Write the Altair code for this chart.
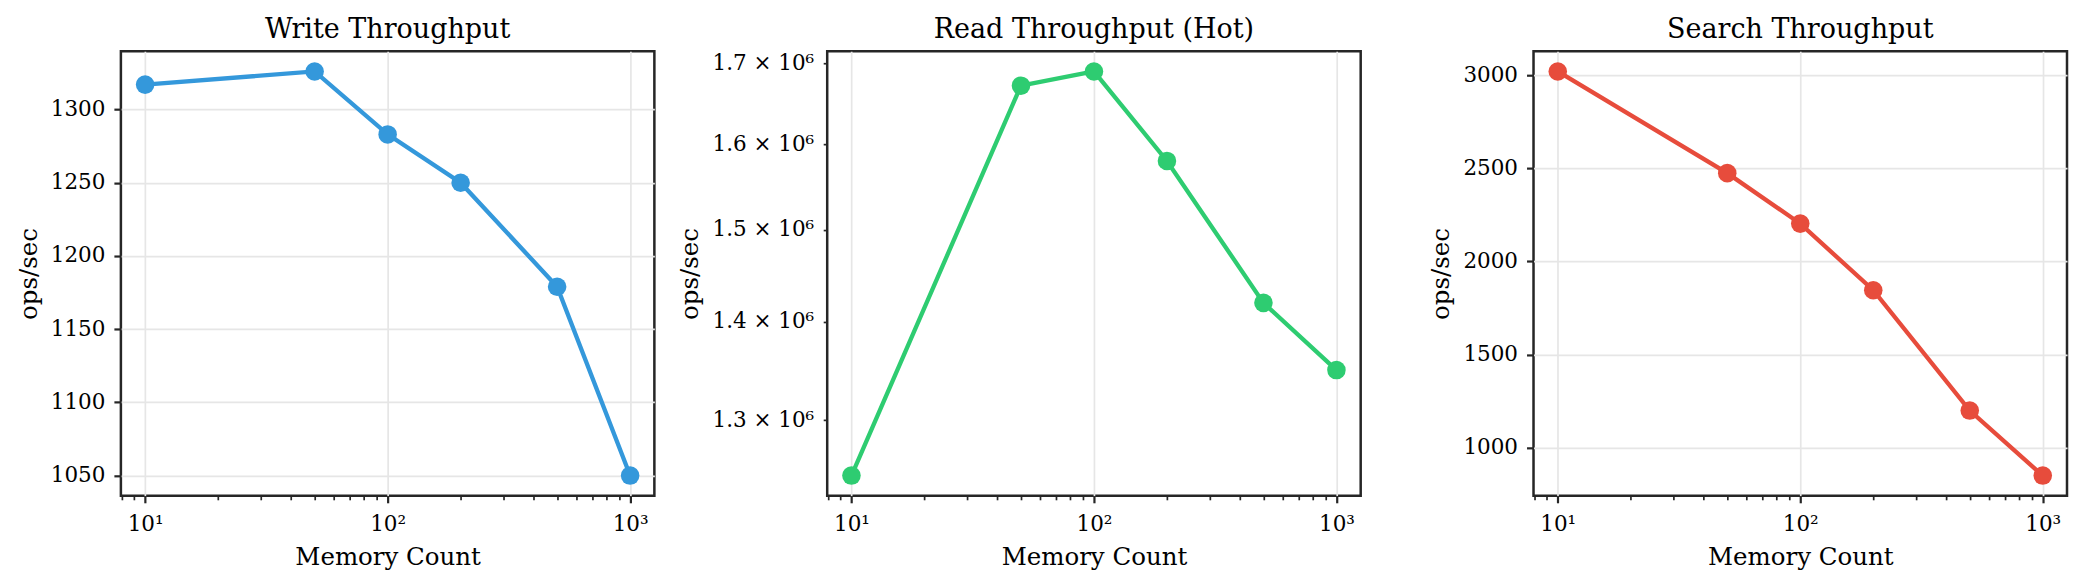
import math
import altair as alt
import pandas as pd

# ---------------- data ----------------
MEMORY_COUNT = [10, 50, 100, 200, 500, 1000]
WRITE_OPS = [1317, 1326, 1283, 1250, 1179, 1050]
READ_OPS = [1.247e6, 1.672e6, 1.690e6, 1.580e6, 1.420e6, 1.350e6]
SEARCH_OPS = [3020, 2474, 2203, 1845, 1199, 850]

TITLES = ["Write Throughput", "Read Throughput (Hot)", "Search Throughput"]
COLORS = ["#3498db", "#2ecc71", "#e74c3c"]
X_TITLE = "Memory Count"
Y_TITLE = "ops/sec"

X_MAJOR = [10, 100, 1000]
X_MAJOR_LABELS = ["10\u00b9", "10\u00b2", "10\u00b3"]
X_MINOR = [8, 9, 20, 30, 40, 50, 60, 70, 80, 90, 200, 300, 400, 500, 600, 700, 800, 900]
WRITE_TICKS = [1050, 1100, 1150, 1200, 1250, 1300]
SEARCH_TICKS = [1000, 1500, 2000, 2500, 3000]
READ_TICKS = [1.3e6, 1.4e6, 1.5e6, 1.6e6, 1.7e6]
READ_TICK_LABELS = ["1.3 \u00d7 10\u2076", "1.4 \u00d7 10\u2076", "1.5 \u00d7 10\u2076",
                    "1.6 \u00d7 10\u2076", "1.7 \u00d7 10\u2076"]

FONT = "DejaVu Serif"
INK = "#262626"
W, H = 534, 445


def label_expr(values, labels):
    expr = "''"
    for v, l in reversed(list(zip(values, labels))):
        expr = f"abs(datum.value - {v}) < 1e-6 * {v} ? '{l}' : ({expr})"
    return expr


def lin_domain(vals):
    lo, hi = min(vals), max(vals)
    m = 0.05 * (hi - lo)
    return [lo - m, hi + m]


def log_domain(vals):
    lo, hi = math.log10(min(vals)), math.log10(max(vals))
    m = 0.05 * (hi - lo)
    return [10 ** (lo - m), 10 ** (hi + m)]


XDOM = log_domain(MEMORY_COUNT)

x_major_axis = alt.Axis(values=X_MAJOR, labelExpr=label_expr(X_MAJOR, X_MAJOR_LABELS),
                        title=X_TITLE, orient="bottom", tickSize=7, tickWidth=2.2,
                        grid=True, labelPadding=11, titlePadding=10,
                        labelFlush=False, labelOverlap=False)
x_minor_axis = alt.Axis(values=X_MINOR, labels=False, title=None, orient="bottom",
                        tickSize=4, tickWidth=1.7, grid=False)


def panel(values, title, color, ytype, yaxis):
    df = pd.DataFrame({"count": MEMORY_COUNT, "ops": values})
    ydom = log_domain(values) if ytype == "log" else lin_domain(values)
    xs = alt.Scale(type="log", domain=XDOM, nice=False)
    ys = alt.Scale(type=ytype, domain=ydom, nice=False, zero=False)
    base = alt.Chart(df)
    line = base.mark_line(color=color, strokeWidth=4.3).encode(
        x=alt.X("count:Q", scale=xs, axis=x_major_axis),
        y=alt.Y("ops:Q", scale=ys, axis=yaxis),
    )
    pts = base.mark_point(filled=True, color=color, size=345, opacity=1).encode(
        x=alt.X("count:Q", scale=xs, axis=x_minor_axis),
        y=alt.Y("ops:Q", scale=ys, axis=yaxis),
    )
    return alt.layer(line, pts).resolve_axis(x="independent").properties(
        width=W, height=H, title=title)


write_axis = alt.Axis(values=WRITE_TICKS, format="d", title=Y_TITLE, tickSize=7,
                      tickWidth=2.2, grid=True, labelPadding=9, titlePadding=9,
                      labelOverlap=False)
search_axis = alt.Axis(values=SEARCH_TICKS, format="d", title=Y_TITLE, tickSize=7,
                       tickWidth=2.2, grid=True, labelPadding=9, titlePadding=9,
                       labelOverlap=False)
read_axis = alt.Axis(values=READ_TICKS, labelExpr=label_expr(READ_TICKS, READ_TICK_LABELS),
                     title=Y_TITLE, tickSize=4, tickWidth=1.7, grid=False,
                     labelPadding=9.5, titlePadding=9, labelOverlap=False)

p1 = panel(WRITE_OPS, TITLES[0], COLORS[0], "linear", write_axis)
p2 = panel(READ_OPS, TITLES[1], COLORS[1], "log", read_axis)
p3 = panel(SEARCH_OPS, TITLES[2], COLORS[2], "linear", search_axis)

chart = alt.hconcat(p1, p2, p3, spacing=173, bounds="flush").properties(
    padding={"left": 7, "top": 6, "right": 3, "bottom": 3}
).configure_view(
    stroke=INK, strokeWidth=2.5
).configure_axis(
    labelFont=FONT, labelFontSize=21.5, labelColor="black",
    titleFont=FONT, titleFontSize=24.5, titleFontWeight="normal", titleColor="black",
    tickColor=INK, domain=False, gridColor="#e6e6e6", gridWidth=1.7,
).configure_title(
    font=FONT, fontSize=27, fontWeight="normal", color="black", offset=7,
    frame="group", anchor="middle",
)

chart.save("out.html", embed_options={"renderer": "svg", "actions": False})
